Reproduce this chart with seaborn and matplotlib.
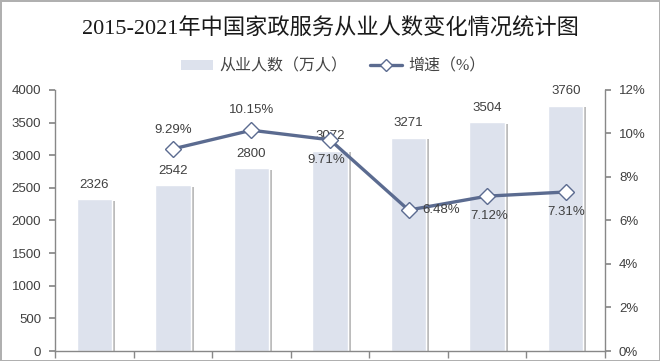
import numpy as np
import pandas as pd
import matplotlib
matplotlib.use("Agg")
import matplotlib.pyplot as plt
import matplotlib.patheffects as pe
from matplotlib.patches import Patch
from matplotlib.lines import Line2D
from matplotlib.ticker import FuncFormatter, FixedLocator
import seaborn as sns

# data
years = ["2015", "2016", "2017", "2018", "2019", "2020", "2021"]
workers = [2326, 2542, 2800, 3072, 3271, 3504, 3760]
rate_years = ["2016", "2017", "2018", "2019", "2020", "2021"]
rates = [9.29, 10.15, 9.71, 6.48, 7.12, 7.31]

title = "2015-2021年中国家政服务从业人数变化情况统计图"
bar_name = "从业人数（万人）"
line_name = "增速（%）"

bar_col = "#dde2ed"
line_col = "#5b6b90"
txt_col = "#404040"
cjk = ["Liberation Serif", "Noto Sans CJK SC"]

sns.set_theme(style="white")
plt.rcParams["font.family"] = ["Liberation Sans", "Noto Sans CJK SC"]

df = pd.DataFrame({"year": years, "workers": workers})
dr = pd.DataFrame({"pos": [years.index(y) for y in rate_years], "rate": rates})

fig = plt.figure(figsize=(6.6, 3.61), dpi=100)
fig.patch.set_edgecolor("#b0b0b0")
fig.patch.set_linewidth(2)
ax = fig.add_axes([0.0833, 0.0277, 0.8334, 0.723])

sns.barplot(data=df, x="year", y="workers", color=bar_col, width=0.45,
            saturation=1, ax=ax)
for p in ax.patches:
    p.set_path_effects([pe.SimplePatchShadow(offset=(2.2, -1), shadow_rgbFace="#909090", alpha=0.6),
                        pe.Normal()])
ax.bar_label(ax.containers[0], padding=6, fontsize=9.5, color=txt_col)

ax.set_xlim(-0.5, len(years) - 0.5)
ax.set_ylim(0, 4000)
ax.set_yticks(np.arange(0, 4001, 500))
ax.set_xlabel("")
ax.set_ylabel("")
ax.set_xticks([])
ax.xaxis.set_minor_locator(FixedLocator(np.arange(-0.5, len(years), 1)))
ax.tick_params(axis="x", which="minor", bottom=True, length=5, color="#888888", width=1)
ax.tick_params(axis="y", left=True, length=4, color="#888888", labelsize=9.5,
               labelcolor=txt_col, pad=6)
for s in ["top", "right"]:
    ax.spines[s].set_visible(False)
for s in ["left", "bottom"]:
    ax.spines[s].set_color("#888888")
    ax.spines[s].set_linewidth(1)

ax2 = ax.twinx()
sns.lineplot(data=dr, x="pos", y="rate", color=line_col, linewidth=2.4, marker="D",
             markersize=8, markerfacecolor="white", markeredgecolor=line_col,
             markeredgewidth=1, ax=ax2)
ax2.set_ylim(0, 12)
ax2.set_yticks(np.arange(0, 13, 2))
ax2.yaxis.set_major_formatter(FuncFormatter(lambda v, _: f"{v:.0f}%"))
ax2.set_xlabel("")
ax2.set_ylabel("")
ax2.tick_params(axis="y", right=True, length=4, color="#888888", labelsize=9.5,
                labelcolor=txt_col, pad=6)
for s in ["top", "left", "bottom"]:
    ax2.spines[s].set_visible(False)
ax2.spines["right"].set_color("#888888")
ax2.spines["right"].set_linewidth(1)

# label offsets in pixels, matching the reference
offs = [(0, 19, "center"), (0, 20, "center"), (-4, -20, "center"),
        (14, 0, "left"), (2, -20, "center"), (0, -20, "center")]
for x, r, (dx, dy, ha) in zip(dr["pos"], dr["rate"], offs):
    ax2.annotate(f"{r:.2f}%", (x, r), xytext=(dx, dy), textcoords="offset pixels",
                 ha=ha, va="center", fontsize=9.5, color=txt_col)

fig.text(0.5, 0.92, title, ha="center", va="center", fontsize=16,
         family=cjk, color="#1a1a1a")

handles = [Patch(facecolor=bar_col, edgecolor="none"),
           Line2D([], [], color=line_col, linewidth=2.4, marker="D", markersize=6,
                  markerfacecolor="white", markeredgecolor=line_col)]
fig.legend(handles, [bar_name, line_name], loc="center", bbox_to_anchor=(0.505, 0.815),
           ncol=2, frameon=False, handlelength=2.0, handleheight=0.6, handletextpad=0.4,
           columnspacing=1.4, prop={"family": cjk, "size": 11.5}, labelcolor="#444444")

fig.savefig("out.png", dpi=100)
